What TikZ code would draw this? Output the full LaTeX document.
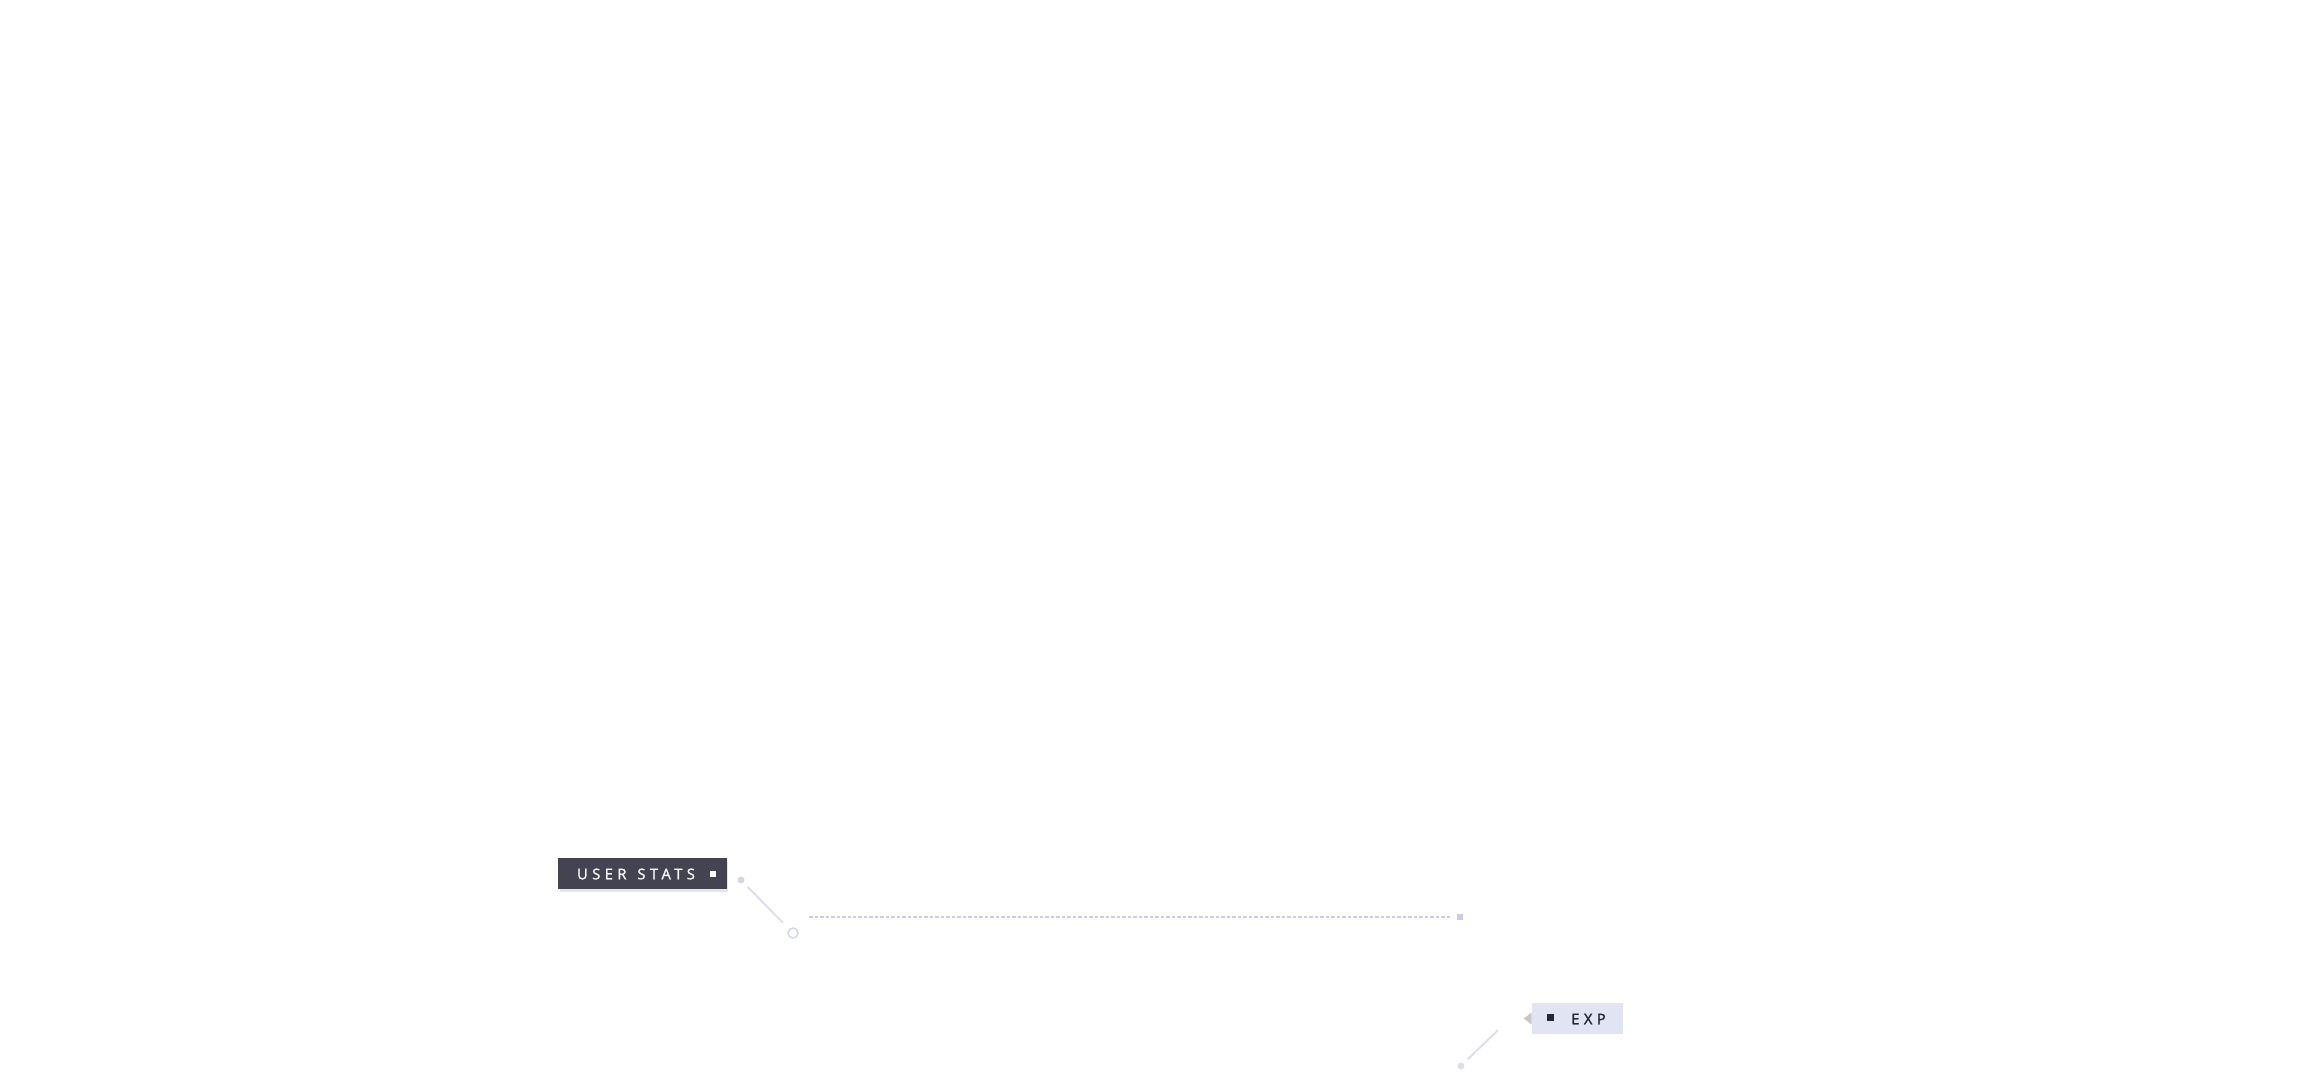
\documentclass[tikz,border=0pt]{standalone}
\usepackage{fontspec}
\setsansfont{Open Sans}
\newfontfamily\tagfont[LetterSpace=30,FakeBold=1.6]{Open Sans}
\usetikzlibrary{calc}
\definecolor{slate}{HTML}{434352}
\definecolor{lavender}{HTML}{C9CCE8}
\definecolor{paletag}{HTML}{E1E4F2}
\definecolor{faint}{HTML}{DDDFEC}
\definecolor{ink}{HTML}{262634}
\tikzset
{
  darktag/.style={fill=slate,minimum width=3.38cm,minimum height=0.62cm,inner sep=0pt},
  lighttag/.style={fill=paletag,minimum width=1.82cm,minimum height=0.62cm,inner sep=0pt},
  tagtext/.style={font=\tagfont\fontsize{8.4}{8.4}\selectfont,inner sep=0pt},
  leader/.style={faint,line width=0.04cm},
  guide/.style={lavender,line width=0.04cm,dash pattern=on 0.07cm off 0.04cm}
}
\begin{document}
\begin{tikzpicture}[x=0.02cm,y=-0.02cm,line cap=butt]
            \useasboundingbox[fill=white] (0,0) rectangle (2300,1080);
            % koordinate
            \coordinate (Du) at (741,880);
            \coordinate (Ru) at (793,933);
            \coordinate (Gs) at (809,917);
            \coordinate (Ge) at (1451,917);
            \coordinate (De) at (1461,1066);
            \coordinate (Le) at (1498,1030);
            % oznaka user stats
            \node[fill=black!10,minimum width=3.38cm,minimum height=0.62cm] at (644,876) {};
            \node[darktag] (U) at (642.5,873.5) {};
            \node[tagtext,text=white!95!slate] (Ut) at (636,874) {USER \hspace{1.5pt}STATS};
            \fill[white] (710,871) rectangle (716,877);
            % oznaka exp
            \node[lighttag] (E) at (1577.5,1018.5) {};
            \fill[black!22] (E.west) ++(0,-6) -- ++(-8,6) -- ++(8,6) -- cycle;
            \fill[ink] (1547,1014) rectangle (1554,1021);
            \node[tagtext,text=ink] (Et) at (1588.5,1019) {EXP};
            % tocki in kroga
            \fill[black!4!faint] (Du) circle [radius=3.5];
            \draw[lavender!80,line width=0.03cm] (Ru) circle [radius=5];
            \fill[faint] (De) circle [radius=3.5];
            % povezave
            \draw[leader] ($(Du)!0.13!(Ru)$) -- ($(Du)!0.8!(Ru)$);
            \draw[leader] (Le) -- ($(Le)!0.82!(De)$);
            \draw[guide] (Gs) -- (Ge);
            \fill[lavender] (1457,914) rectangle (1463,920);
        \end{tikzpicture}
\end{document}
